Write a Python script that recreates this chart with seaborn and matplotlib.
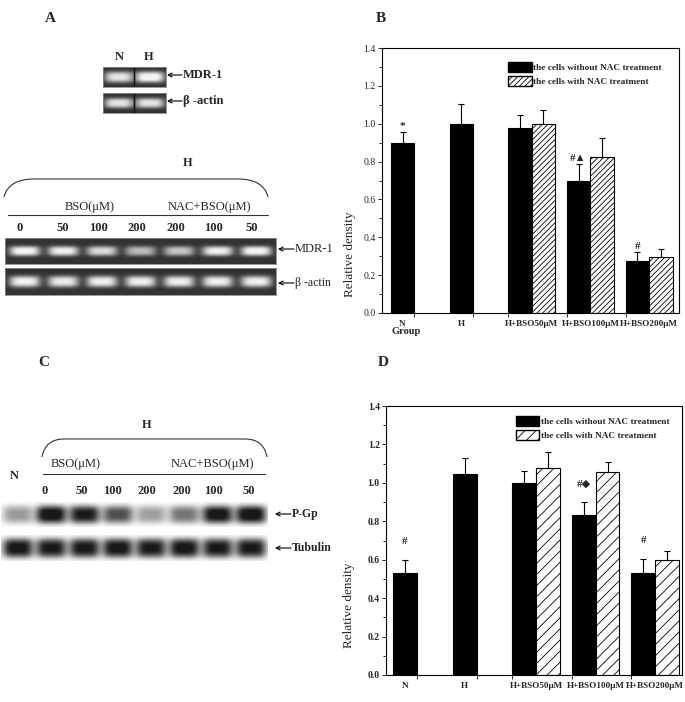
import numpy as np
import pandas as pd
import matplotlib
matplotlib.use("Agg")
import matplotlib.pyplot as plt
import seaborn as sns
from matplotlib.patches import Patch, PathPatch
from matplotlib.path import Path
from matplotlib.ticker import MultipleLocator, FixedLocator

sns.set_theme(style="ticks")
plt.rcParams['font.family'] = ['Liberation Serif', 'DejaVu Sans']
plt.rcParams['hatch.linewidth'] = 0.6

W, H = 685, 702

# bar chart data
groups = ["N", "H", "H+BSO50μM", "H+BSO100μM", "H+BSO200μM"]
treat = ["the cells without NAC treatment", "the cells with NAC treatment"]

# B: MDR-1 mRNA
b_without = [0.90, 1.00, 0.98, 0.70, 0.275]
b_without_err = [0.056, 0.105, 0.067, 0.085, 0.045]
b_with = [np.nan, np.nan, 1.00, 0.825, 0.295]
b_with_err = [np.nan, np.nan, 0.075, 0.097, 0.045]
b_marks = ["*", "", "", "#▲", "#"]

# D: P-gp protein
d_without = [0.53, 1.045, 1.00, 0.835, 0.53]
d_without_err = [0.07, 0.085, 0.063, 0.063, 0.075]
d_with = [np.nan, np.nan, 1.075, 1.055, 0.597]
d_with_err = [np.nan, np.nan, 0.083, 0.055, 0.05]
d_marks = ["#", "", "", "#◆", "#"]

# gel band intensities (0..1)
a_top_lanes = ["N", "H"]
a_top_mdr = [0.85, 1.0]
a_top_actin = [0.85, 0.85]
a_doses = ["0", "50", "100", "200", "200", "100", "50"]
a_mdr = [0.95, 0.90, 0.80, 0.65, 0.70, 0.90, 0.95]
a_actin = [0.92, 0.88, 0.90, 0.90, 0.90, 0.90, 0.90]
c_doses = ["0", "50", "100", "200", "200", "100", "50"]
c_pgp = [0.40, 1.0, 0.92, 0.70, 0.38, 0.55, 0.97, 1.0]
c_tubulin = [0.95, 0.92, 0.93, 0.95, 0.92, 0.95, 0.92, 0.92]

fig = plt.figure(figsize=(W / 100, H / 100), dpi=100)
fig.patch.set_facecolor("white")


def px_axes(x0, y0, x1, y1):
    return fig.add_axes([x0 / W, 1 - y1 / H, (x1 - x0) / W, (y1 - y0) / H])


# overlay for text, braces and arrows
ov = fig.add_axes([0, 0, 1, 1])
ov.set_xlim(0, W)
ov.set_ylim(H, 0)
ov.axis("off")
ov.set_facecolor("none")


def gel(rect, vals, dark, bw=0.42, bh=0.35, seam=False):
    ax = px_axes(*rect)
    n = len(vals)
    xx = np.linspace(0, n, n * 40)
    yy = np.linspace(-1, 1, 60)
    X, Y = np.meshgrid(xx, yy)
    img = np.zeros_like(X)
    for i, v in enumerate(vals):
        img += v * np.exp(-np.abs((X - i - 0.5) / bw) ** 4) * np.exp(-np.abs(Y / bh) ** 3)
    img = np.clip(img * 1.1, 0, 1)
    if dark:
        pix = 0.2 + 0.75 * img
        if seam:
            pix[:, np.abs(xx - n / 2) < 0.03] = 0.08
    else:
        pix = 1 - 0.9 * img
    ax.imshow(pix, cmap="gray", vmin=0, vmax=1, aspect="auto",
              extent=[0, n, -1, 1], interpolation="bilinear")
    ax.set_xticks([])
    ax.set_yticks([])
    for s in ax.spines.values():
        s.set_visible(dark)
        s.set_color("#888888")
        s.set_linewidth(0.6)
    return ax


def brace(x0, x1, ytop, ybot, r):
    verts = [(x0, ybot), (x0 + r * 0.15, ytop), (x0 + r, ytop),
             (x1 - r, ytop), (x1 - r * 0.15, ytop), (x1, ybot)]
    codes = [Path.MOVETO, Path.CURVE3, Path.CURVE3, Path.LINETO, Path.CURVE3, Path.CURVE3]
    ov.add_patch(PathPatch(Path(verts, codes), fill=False, lw=0.8, color="#333333"))


def arrow_label(x0, x1, y, label, bold=False, size=9):
    ov.annotate("", xy=(x0, y), xytext=(x1, y),
                arrowprops=dict(arrowstyle="->", lw=0.8, color="black",
                                shrinkA=0, shrinkB=0, mutation_scale=7))
    ov.text(x1 + 1, y, label, ha="left", va="center", fontsize=size,
            fontweight="bold" if bold else "normal")


# ---------- panel A ----------
ov.text(50, 18, "A", fontsize=11, fontweight="bold", ha="center", va="center")
for x, lab in zip([119, 149], a_top_lanes):
    ov.text(x, 57, lab, fontsize=9, fontweight="bold", ha="center", va="center")
gel((103, 67, 166, 87), a_top_mdr, True, bw=0.46, bh=0.55, seam=True)
gel((103, 93, 166, 113), a_top_actin, True, bw=0.46, bh=0.5, seam=True)
arrow_label(167, 182, 75, "MDR-1", bold=True)
arrow_label(167, 182, 101, "β -actin", bold=True)

ov.text(188, 163, "H", fontsize=9, fontweight="bold", ha="center", va="center")
brace(4, 268, 179, 197, 30)
ov.text(90, 207, "BSO(μM)", fontsize=9, ha="center", va="center")
ov.text(209, 207, "NAC+BSO(μM)", fontsize=9, ha="center", va="center")
ov.plot([8, 268], [215, 215], color="#333333", lw=0.8)
for x, lab in zip([20, 63, 98, 137, 176, 213, 252], a_doses):
    ov.text(x, 228, lab, fontsize=9, fontweight="bold", ha="center", va="center")
gel((5, 238, 276, 264), a_mdr, True, bw=0.40, bh=0.38)
gel((5, 268, 276, 295), a_actin, True, bw=0.40, bh=0.42)
arrow_label(278, 294, 249, "MDR-1")
arrow_label(278, 294, 283, "β -actin", size=8.5)

# ---------- panel C ----------
ov.text(44, 362, "C", fontsize=11, fontweight="bold", ha="center", va="center")
ov.text(147, 425, "H", fontsize=9, fontweight="bold", ha="center", va="center")
brace(42, 267, 439, 457, 22)
ov.text(76, 464, "BSO(μM)", fontsize=9, ha="center", va="center")
ov.text(212, 464, "NAC+BSO(μM)", fontsize=9, ha="center", va="center")
ov.plot([43, 265], [474, 474], color="#333333", lw=0.8)
ov.text(14, 476, "N", fontsize=9, fontweight="bold", ha="center", va="center")
for x, lab in zip([45, 82, 112, 147, 182, 213, 249], c_doses):
    ov.text(x, 491, lab, fontsize=9, fontweight="bold", ha="center", va="center")
gel((1, 502, 268, 527), c_pgp, False, bw=0.46, bh=0.72)
gel((1, 535, 268, 561), c_tubulin, False, bw=0.46, bh=0.75)
arrow_label(275, 291, 514, "P-Gp", bold=True, size=8.5)
arrow_label(275, 291, 548, "Tubulin", bold=True, size=8.5)


# ---------- bar panels ----------
def bar_panel(rect, without, without_err, with_, with_err, marks, xlim,
              hatch, bold_y, mark_pad, ylab_xy, leg_anchor):
    ax = px_axes(*rect)
    rows = [(g, treat[0], v) for g, v in zip(groups, without)]
    rows += [(g, treat[1], v) for g, v in zip(groups, with_) if not np.isnan(v)]
    df = pd.DataFrame(rows, columns=["group", "treatment", "value"])
    sns.barplot(data=df, x="group", y="value", hue="treatment", order=groups,
                hue_order=treat, palette=["black", "white"], saturation=1,
                edgecolor="black", linewidth=0.8, width=0.8, errorbar=None,
                legend=False, ax=ax)
    blk, hat = ax.containers[0], ax.containers[1]
    for b in hat:
        b.set_hatch(hatch)
    xb = [b.get_x() + b.get_width() / 2 for b in blk]
    ax.errorbar(xb, without, yerr=[np.zeros(len(xb)), without_err], fmt="none",
                ecolor="black", elinewidth=0.8, capsize=2.5, capthick=0.8)
    wv = [v for v in with_ if not np.isnan(v)]
    we = [e for e in with_err if not np.isnan(e)]
    xh = [b.get_x() + b.get_width() / 2 for b in hat]
    ax.errorbar(xh, wv, yerr=[np.zeros(len(xh)), we], fmt="none",
                ecolor="black", elinewidth=0.8, capsize=2.5, capthick=0.8)
    for x, v, e, m in zip(xb, without, without_err, marks):
        if m:
            ax.text(x, v + e + mark_pad, m, ha="center", va="bottom", fontsize=8,
                    fontweight="bold")
    ax.set_xlim(*xlim)
    ax.set_ylim(0, 1.4)
    ax.yaxis.set_minor_locator(MultipleLocator(0.1))
    ax.set_yticks(np.arange(0, 1.41, 0.2))
    ax.set_yticklabels([f"{t:.1f}" for t in np.arange(0, 1.41, 0.2)], fontsize=7,
                       fontweight="bold" if bold_y else "normal")
    ax.set_xticks([i - 0.2 if i < 2 else i for i in range(len(groups))])
    ax.set_xticklabels(groups, fontsize=6.6, fontweight="bold")
    ax.xaxis.set_minor_locator(FixedLocator([0, 1, 1.6, 2, 2.6, 3, 3.6, 4]))
    ax.tick_params(axis="x", which="major", length=0, pad=5)
    ax.tick_params(axis="x", which="minor", length=3, width=0.7, direction="out")
    ax.tick_params(axis="y", which="major", length=3, width=0.7, direction="out", pad=1.5)
    ax.tick_params(axis="y", which="minor", length=2, width=0.7, direction="out")
    for s in ax.spines.values():
        s.set_visible(True)
        s.set_linewidth(0.8)
        s.set_color("black")
    ax.set_xlabel("")
    ax.set_ylabel("Relative density", fontsize=9.5)
    ax.yaxis.set_label_coords(*ylab_xy)
    handles = [Patch(facecolor="black", edgecolor="black", label=treat[0]),
               Patch(facecolor="white", edgecolor="black", hatch=hatch, label=treat[1])]
    ax.legend(handles=handles, loc="upper right", bbox_to_anchor=leg_anchor,
              frameon=False, prop=dict(weight="bold", size=6.7), handlelength=2.5,
              handleheight=1.15, handletextpad=0.2, labelspacing=0.45, borderaxespad=0)
    return ax


ov.text(381, 18, "B", fontsize=11, fontweight="bold", ha="center", va="center")
axb = bar_panel((382, 48, 679, 313), b_without, b_without_err, b_with, b_with_err,
                b_marks, (-0.55, 4.51), "//////", False, 0.005, (-0.088, 0.22),
                (0.955, 0.96))
ov.text(406, 332, "Group", fontsize=7.5, fontweight="bold", ha="center", va="center")

ov.text(383, 362, "D", fontsize=11, fontweight="bold", ha="center", va="center")
axd = bar_panel((386, 406, 682, 675), d_without, d_without_err, d_with, d_with_err,
                d_marks, (-0.52, 4.45), "///", True, 0.07, (-0.105, 0.26),
                (0.97, 0.975))

fig.savefig("out.png", dpi=100, facecolor="white")
